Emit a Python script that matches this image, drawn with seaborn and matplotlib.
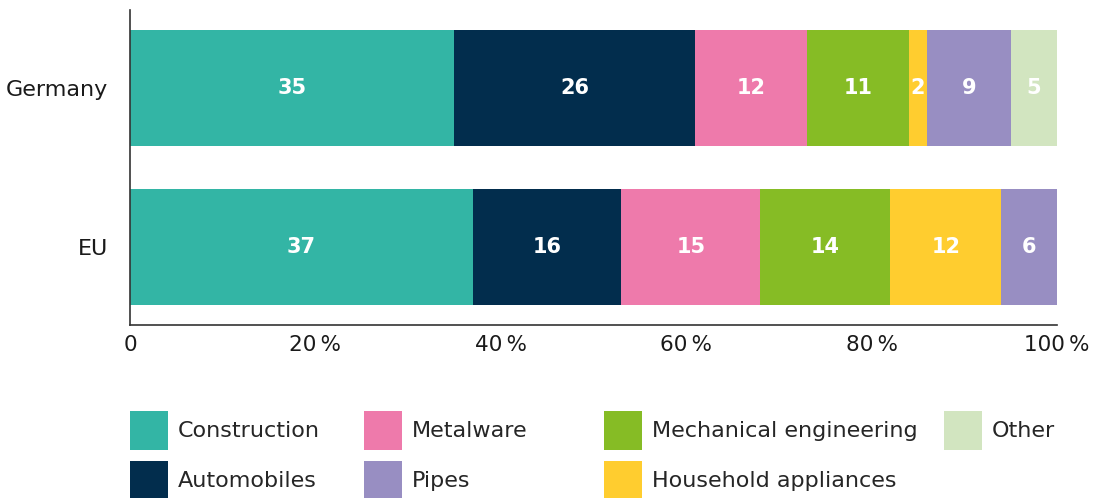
import matplotlib
matplotlib.use("Agg")
import matplotlib.pyplot as plt
from matplotlib.patches import Patch
import seaborn as sns
import numpy as np
import pandas as pd

regions = ["Germany", "EU"]
sectors = ["Construction", "Automobiles", "Metalware", "Mechanical engineering",
           "Household appliances", "Pipes", "Other"]
germany = [35, 26, 12, 11, 2, 9, 5]
eu = [37, 16, 15, 14, 12, 6, 0]
colors = ["#33b5a5", "#022d4d", "#ee7aab", "#86bc25", "#ffcd2f", "#988ec2", "#d2e5c0"]
ticks = [0, 20, 40, 60, 80, 100]
tick_labels = ["0"] + [f"{t}\u2009%" for t in ticks[1:]]

sns.set_style("white")
plt.rcParams["font.family"] = ["DejaVu Sans"]

values = np.array([germany, eu])
cum = values.cumsum(axis=1)

fig = plt.figure(figsize=(10.96, 4.98), dpi=100)
ax = fig.add_axes([130 / 1096, 1 - 325 / 498, 927 / 1096, 315 / 498])

# stacked bars: draw cumulative totals from the last sector backwards
for i in range(len(sectors) - 1, -1, -1):
    df = pd.DataFrame({"region": regions, "total": cum[:, i]})
    sns.barplot(data=df, x="total", y="region", orient="h", color=colors[i],
                width=0.73, saturation=1, ax=ax, errorbar=None,
                linewidth=0, edgecolor="none")

for r in range(len(regions)):
    for i in range(len(sectors)):
        v = values[r, i]
        if v == 0:
            continue
        ax.text(cum[r, i] - v / 2, r, str(v), ha="center", va="center",
                color="white", fontsize=15, fontweight="bold")

ax.set_xlim(0, 100)
ax.set_ylim(1.49, -0.49)
ax.set_xticks(ticks)
ax.set_xticklabels(tick_labels, fontsize=15.5, color="#1a1a1a")
ax.set_xlabel("")
ax.set_ylabel("")
ax.tick_params(axis="x", direction="in", length=6, width=1, color="#333333", pad=7)
ax.tick_params(axis="y", length=0, labelsize=16, pad=16, labelcolor="#1a1a1a")
sns.despine(ax=ax, top=True, right=True)
for s in ["left", "bottom"]:
    ax.spines[s].set_color("#333333")
    ax.spines[s].set_linewidth(1.2)

# legend laid out as four separate columns
columns = [[0, 1], [2, 5], [3, 4], [6]]
col_x = [130, 364, 604, 944]
for idx, x in zip(columns, col_x):
    handles = [Patch(facecolor=colors[i], edgecolor="none", label=sectors[i]) for i in idx]
    fig.legend(handles=handles, loc="upper left", bbox_to_anchor=(x / 1096, 1 - 411 / 498),
               frameon=False, fontsize=16, handlelength=1.72, handleheight=2.3,
               handletextpad=0.45, labelspacing=0.5, borderpad=0, borderaxespad=0)

fig.savefig("out.png", dpi=100)
